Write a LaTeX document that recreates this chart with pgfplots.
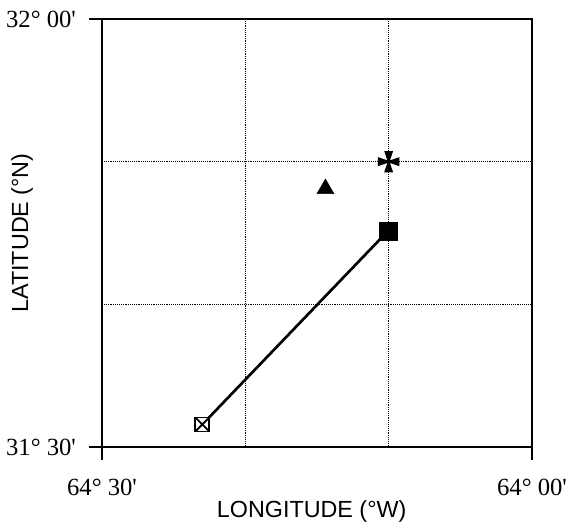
\documentclass[border=0pt]{standalone}
\usepackage{pgfplots}
\pgfplotsset{compat=1.18}
\usepackage{fontspec}
\setmainfont{Liberation Serif}
\newfontfamily\arial{Liberation Sans}
\pgfdeclareplotmark{maltese}{%
  \pgfmathsetmacro{\L}{\pgfplotmarksize}%
  \pgfmathsetmacro{\w}{0.42*\pgfplotmarksize}%
  \pgfmathsetmacro{\c}{0.12*\pgfplotmarksize}%
  \pgfpathmoveto{\pgfpoint{\c pt}{\c pt}}%
  \pgfpathlineto{\pgfpoint{\w pt}{\L pt}}%
  \pgfpathlineto{\pgfpoint{-\w pt}{\L pt}}%
  \pgfpathlineto{\pgfpoint{-\c pt}{\c pt}}%
  \pgfpathlineto{\pgfpoint{-\L pt}{\w pt}}%
  \pgfpathlineto{\pgfpoint{-\L pt}{-\w pt}}%
  \pgfpathlineto{\pgfpoint{-\c pt}{-\c pt}}%
  \pgfpathlineto{\pgfpoint{-\w pt}{-\L pt}}%
  \pgfpathlineto{\pgfpoint{\w pt}{-\L pt}}%
  \pgfpathlineto{\pgfpoint{\c pt}{-\c pt}}%
  \pgfpathlineto{\pgfpoint{\L pt}{-\w pt}}%
  \pgfpathlineto{\pgfpoint{\L pt}{\w pt}}%
  \pgfpathclose
  \pgfusepath{fill}}
\pgfdeclareplotmark{boxx}{%
  \pgfpathrectangle{\pgfpoint{-\pgfplotmarksize}{-\pgfplotmarksize}}{\pgfpoint{2\pgfplotmarksize}{2\pgfplotmarksize}}%
  \pgfusepath{fill,stroke}%
  \pgfpathmoveto{\pgfpoint{-\pgfplotmarksize}{-\pgfplotmarksize}}%
  \pgfpathlineto{\pgfpoint{\pgfplotmarksize}{\pgfplotmarksize}}%
  \pgfpathmoveto{\pgfpoint{-\pgfplotmarksize}{\pgfplotmarksize}}%
  \pgfpathlineto{\pgfpoint{\pgfplotmarksize}{-\pgfplotmarksize}}%
  \pgfusepath{stroke}}
\begin{document}
\begin{tikzpicture}[x=1pt,y=1pt]
\useasboundingbox (-76.5,-59.25) rectangle (354.75,335.25);
\begin{axis}[
  scale only axis, width=322.5pt, height=321pt,
  x dir=reverse, xmin=0, xmax=30, ymin=30, ymax=60,
  xtick={0,30}, xticklabels={64° 00\textquotesingle, 64° 30\textquotesingle},
  ytick={30,60}, yticklabels={31° 30\textquotesingle, 32° 00\textquotesingle},
  xtick pos=left, ytick pos=left,
  tick align=outside, major tick length=9.5pt,
  tick style={line width=1.8pt, black},
  axis line style={line width=1.8pt},
  extra x ticks={10,20}, extra x tick labels={},
  extra x tick style={grid=major, major tick length=0pt},
  extra y ticks={40,50}, extra y tick labels={},
  extra y tick style={grid=major, major tick length=0pt},
  major grid style={densely dotted, line width=0.9pt, black},
  tick label style={font=\fontsize{18.5}{22}\selectfont},
  xticklabel style={anchor=center, yshift=-20.5pt},
  yticklabel style={anchor=east, xshift=-6.5pt},
  xlabel={LONGITUDE (°W)},
  ylabel={LATITUDE (°N)},
  label style={font=\arial\fontsize{17.5}{20}\selectfont},
  xlabel style={at={(axis description cs:0.5,0)}, anchor=center, yshift=-48pt, xshift=-4pt},
  ylabel style={at={(axis description cs:0,0.5)}, anchor=center, yshift=60pt},
  clip=false,
]
\addplot[line width=2pt, black] coordinates {(23,31.58) (10.05,45.14)};
\addplot[only marks, mark=boxx, mark size=5.25pt, mark options={fill=white, draw=black, line width=1.4pt}] coordinates {(23,31.58)};
\addplot[only marks, mark=square*, mark size=6.75pt, black] coordinates {(10.05,45.14)};
\addplot[only marks, mark=triangle*, mark size=7.3pt, black] coordinates {(14.41,48.1)};
\addplot[only marks, mark=maltese, mark size=8pt, black] coordinates {(10,50)};
\end{axis}
\end{tikzpicture}
\end{document}
